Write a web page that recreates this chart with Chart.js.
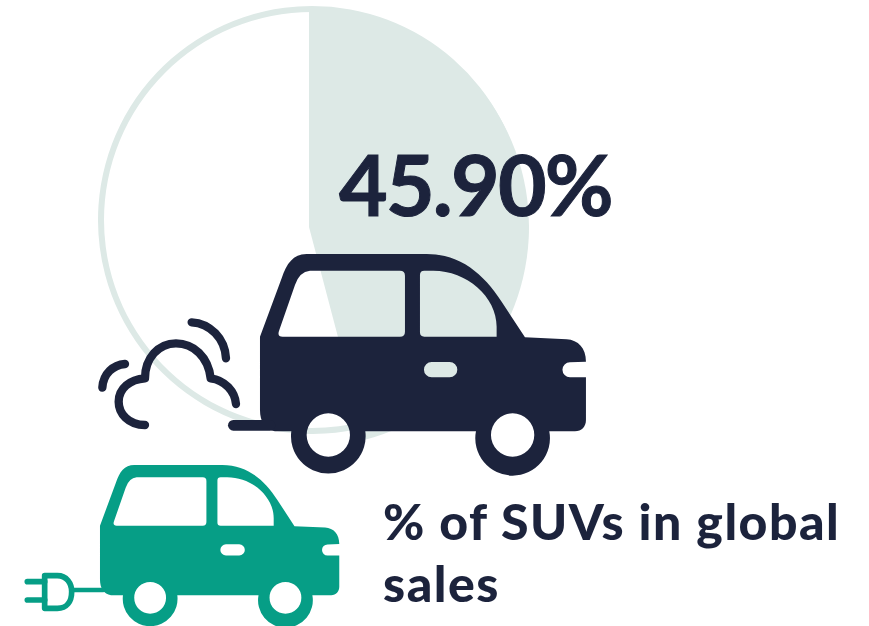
<!DOCTYPE html>
<html>
<head>
<meta charset="utf-8">
<title>% of SUVs in global sales</title>
<script src="https://cdn.jsdelivr.net/npm/chart.js@4"></script>
<style>
    html, body { margin: 0; padding: 0; background: #fff; }
    #stage { position: relative; width: 869px; height: 626px; overflow: hidden; font-family: Lato, sans-serif; color: #1c233c; }
    #stage canvas, #stage svg, #stage div { position: absolute; }
    #ringWrap { left: 98px; top: 6px; width: 428px; height: 428px; }
    #pieWrap { left: 89px; top: 7px; width: 440px; height: 440px; }
    #value { left: 339px; top: 134px; font-size: 84px; line-height: 100px; font-weight: 700; letter-spacing: -1.8px; -webkit-text-stroke: 1px #1c233c; white-space: nowrap; }
    #caption { left: 383px; top: 490px; font-size: 50px; line-height: 62px; font-weight: 900; letter-spacing: 1.5px; white-space: nowrap; }
    #icons { left: 0; top: 0; }
</style>
</head>
<body>
<div id="stage">
    <div id="ringWrap"><canvas id="ring" width="428" height="428"></canvas></div>
    <div id="pieWrap"><canvas id="pie" width="440" height="440"></canvas></div>
    <div id="value"></div>
    <svg id="icons" width="869" height="626" viewBox="0 0 869 626">
        <defs>
            <path id="carBody" fill-rule="evenodd" d="M510 290 L575 115 C590 70 610 42 650 42 L1010 42 C1110 42 1180 100 1235 185 L1305 292 L1430 298 C1465 300 1488 325 1488 365 L1440 367 A22 22 0 0 0 1440 412 L1488 412 L1488 540 C1488 560 1475 574 1455 574 L1378 574 A112 112 0 1 1 1158 574 L826 574 A112 112 0 1 1 604 574 L555 574 C525 570 510 545 510 510 Z
                M660 92 L930 92 Q945 92 945 107 L945 275 Q945 290 930 290 L578 290 Q560 290 568 270 L615 135 Q628 95 660 92 Z
                M990 105 Q990 92 1003 92 L1030 92 C1130 92 1220 170 1220 260 L1220 290 L1003 290 Q990 290 990 277 Z
                M1025 366 L1079 366 A23 23 0 0 1 1079 412 L1025 412 A23 23 0 0 1 1025 366 Z
                M780 585 A65 65 0 1 0 650 585 A65 65 0 1 0 780 585 Z
                M1333 585 A65 65 0 1 0 1203 585 A65 65 0 1 0 1333 585 Z"/>
        </defs>
        <!-- petrol car with exhaust cloud -->
        <g transform="translate(90,240) scale(0.3333)" fill="#1c233c">
            <use href="#carBody"/>
            <path d="M430 556 L540 556" stroke="#1c233c" stroke-width="32" stroke-linecap="round" fill="none"/>
            <g fill="none" stroke="#1c233c" stroke-width="25" stroke-linecap="round" stroke-linejoin="round">
                <path d="M305 247 C360 250 405 295 408 355"/>
                <path d="M105 372 C70 375 40 400 37 443"/>
                <path d="M165 555 C115 555 86 520 86 485 C86 445 120 418 165 415 C165 355 205 310 258 310 C310 310 355 350 362 415 C405 420 435 455 438 492"/>
            </g>
        </g>
        <!-- electric car with plug -->
        <g transform="translate(-24.8,454.7) scale(0.24467)" fill="#069e86">
            <use href="#carBody"/>
        </g>
        <g transform="translate(20,455) scale(0.3333)" fill="none" stroke="#069e86" stroke-width="17" stroke-linecap="round" stroke-linejoin="round">
            <path d="M155 405 L250 405" stroke-width="14"/>
            <path d="M74 362 L112 362 C140 362 155 385 155 410 C155 440 140 460 112 460 L74 460 Z"/>
            <path d="M22 380 L74 380"/>
            <path d="M22 435 L74 435"/>
        </g>
    </svg>
    <div id="caption"></div>
</div>
<script>
    const labels = ['SUVs', 'Other cars'];
    const shareValues = [45.9, 54.1];
    const valueLabel = '45.90%';
    const captionLines = ['% of SUVs in global', 'sales'];

    const paleGreen = '#dde9e6';

    document.getElementById('value').textContent = valueLabel;
    document.getElementById('caption').innerHTML = captionLines.join('<br>');

    const baseOptions = {
        responsive: false,
        animation: false,
        layout: { padding: 0 },
        plugins: {
            legend: { display: false },
            tooltip: { enabled: false }
        }
    };

    // thin outline, the whole circle
    new Chart(document.getElementById('ring'), {
        type: 'doughnut',
        data: {
            labels: labels,
            datasets: [{
                data: shareValues,
                backgroundColor: [paleGreen, paleGreen],
                borderWidth: 0
            }]
        },
        options: { ...baseOptions, cutout: 208 }
    });

    // filled wedge for the SUV share
    new Chart(document.getElementById('pie'), {
        type: 'pie',
        data: {
            labels: labels,
            datasets: [{
                data: shareValues,
                backgroundColor: [paleGreen, 'rgba(0, 0, 0, 0)'],
                borderWidth: 0
            }]
        },
        options: baseOptions
    });
</script>
</body>
</html>
